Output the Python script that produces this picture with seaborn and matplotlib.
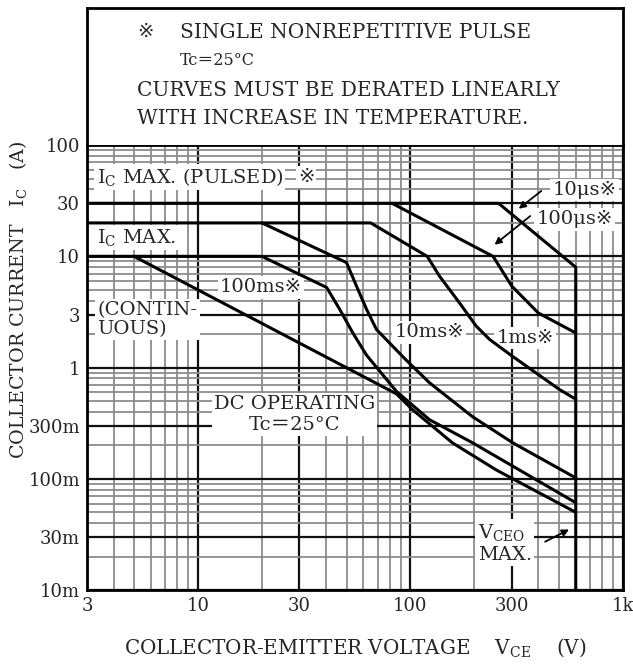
import pandas as pd
import seaborn as sns
import matplotlib.pyplot as plt
from matplotlib.ticker import FixedLocator, FixedFormatter, LogLocator, NullFormatter

sns.set_style('white')
plt.rcParams['font.family'] = ['DejaVu Serif', 'DejaVu Sans', 'Noto Sans CJK JP']
plt.rcParams['mathtext.fontset'] = 'dejavuserif'

# safe operating area curves, V_CE (V) vs I_C (A)
v_10us = [3, 260, 600, 600]
i_10us = [30, 30, 8, 0.01]
v_100us = [82, 245, 300, 400, 600]
i_100us = [30, 10, 5.4, 3.1, 2.05]
v_1ms = [3, 65, 120, 137, 170, 204, 236, 303, 504, 600]
i_1ms = [20, 20, 10, 6.65, 3.83, 2.36, 1.79, 1.26, 0.634, 0.52]
v_10ms = [20, 50, 55.8, 62.2, 69.2, 95, 123, 196, 303, 600]
i_10ms = [20, 8.8, 5.37, 3.33, 2.2, 1.18, 0.73, 0.362, 0.211, 0.102]
v_100ms = [3, 20, 40.3, 46.5, 53.4, 62, 86, 123, 196, 600]
i_100ms = [10, 10, 5.26, 3.33, 2.07, 1.3, 0.61, 0.34, 0.211, 0.061]
v_dc = [5, 86, 102, 158, 254, 600]
i_dc = [10, 0.58, 0.42, 0.21, 0.12, 0.05]

x_ticks = [3, 10, 30, 100, 300, 1000]
x_labels = ["3", "10", "30", "100", "300", "1k"]
y_ticks = [0.01, 0.03, 0.1, 0.3, 1, 3, 10, 30, 100]
y_labels = ["10m", "30m", "100m", "300m", "1", "3", "10", "30", "100"]

curves = {"10us": (v_10us, i_10us), "100us": (v_100us, i_100us),
          "1ms": (v_1ms, i_1ms), "10ms": (v_10ms, i_10ms),
          "100ms": (v_100ms, i_100ms), "dc": (v_dc, i_dc)}
df = pd.concat([pd.DataFrame({"V": v, "I": i, "curve": k}) for k, (v, i) in curves.items()])

fig = plt.figure(figsize=(6.33, 6.66), dpi=100)
ax = fig.add_axes([0.1374, 0.114, 0.8466, 0.668])
ax.set_xscale('log')
ax.set_yscale('log')
ax.set_xlim(3, 1000)
ax.set_ylim(0.01, 100)

sns.lineplot(data=df, x="V", y="I", units="curve", estimator=None, sort=False,
             color="black", lw=2.2, ax=ax, zorder=4)

# grid like the printed log paper
ax.set_axisbelow(True)
ax.xaxis.set_minor_locator(LogLocator(subs=range(2, 10)))
ax.yaxis.set_minor_locator(LogLocator(subs=range(2, 10)))
ax.xaxis.set_minor_formatter(NullFormatter())
ax.yaxis.set_minor_formatter(NullFormatter())
ax.grid(which='minor', color='#8c8c8c', lw=1.3)
ax.grid(which='major', color='#111111', lw=1.6)
ax.xaxis.set_major_locator(FixedLocator(x_ticks))
ax.xaxis.set_major_formatter(FixedFormatter(x_labels))
ax.yaxis.set_major_locator(FixedLocator(y_ticks))
ax.yaxis.set_major_formatter(FixedFormatter(y_labels))
ax.tick_params(which='both', length=0, labelsize=13, pad=5)
ax.set_xlabel("")
ax.set_ylabel("")
for s in ax.spines.values():
    s.set_linewidth(2)
    s.set_color('black')

box = dict(fc='white', ec='none', pad=1.5)
tk = dict(fontsize=14, zorder=3, va='center', bbox=box)
ax.text(3.33, 51.5, "I$_\\mathregular{C}$ MAX. (PULSED)", **tk)
ax.text(29.5, 51.5, "※", **tk)
ax.text(3.36, 14.8, "I$_\\mathregular{C}$ MAX.", **tk)
ax.text(3.36, 2.71, "(CONTIN-\nUOUS)", linespacing=1.1, **tk)
ax.text(12.7, 5.26, "100ms※", **tk)
ax.text(84, 2.07, "10ms※", **tk)
ax.text(254, 1.86, "1ms※", **tk)
ax.text(392, 21.5, "100μs※", **tk)
ax.text(467, 39.3, "10μs※", **tk)
ax.text(28.5, 0.378, "DC OPERATING\nTc＝25°C", ha='center', linespacing=1.2, **tk)
ax.text(207, 0.0265, "V$_\\mathregular{CEO}$\nMAX.", linespacing=1.15, **tk)

arr = dict(arrowstyle='-|>', color='black', lw=1.3, mutation_scale=10)
ax.annotate("", xy=(316, 25.9), xytext=(423, 40.2), arrowprops=arr, zorder=5)
ax.annotate("", xy=(243, 12.3), xytext=(375, 23.9), arrowprops=arr, zorder=5)
ax.annotate("", xy=(573, 0.036), xytext=(419, 0.0265), arrowprops=arr, zorder=5)

# note box above the chart
top = fig.add_axes([0.1374, 0.782, 0.8466, 0.206])
top.set_xticks([])
top.set_yticks([])
top.spines['bottom'].set_visible(False)
for s in ['top', 'left', 'right']:
    top.spines[s].set_linewidth(2)
    top.spines[s].set_color('black')
top.text(0.108, 0.825, "※", fontsize=14, ha='center', va='center')
top.text(0.1735, 0.825, "SINGLE NONREPETITIVE PULSE", fontsize=14.5, va='center')
top.text(0.1735, 0.62, "Tc＝25°C", fontsize=11.5, va='center')
top.text(0.093, 0.40, "CURVES MUST BE DERATED LINEARLY", fontsize=14.5, va='center')
top.text(0.093, 0.197, "WITH INCREASE IN TEMPERATURE.", fontsize=14.5, va='center')

fig.text(0.028, 0.55, "COLLECTOR CURRENT   I$_\\mathregular{C}$   (A)", rotation=90,
         fontsize=13.7, ha='center', va='center')
fig.text(0.561, 0.027, "COLLECTOR-EMITTER VOLTAGE    V$_\\mathregular{CE}$    (V)",
         fontsize=14.3, ha='center', va='center')

fig.savefig("out.png", dpi=100)
